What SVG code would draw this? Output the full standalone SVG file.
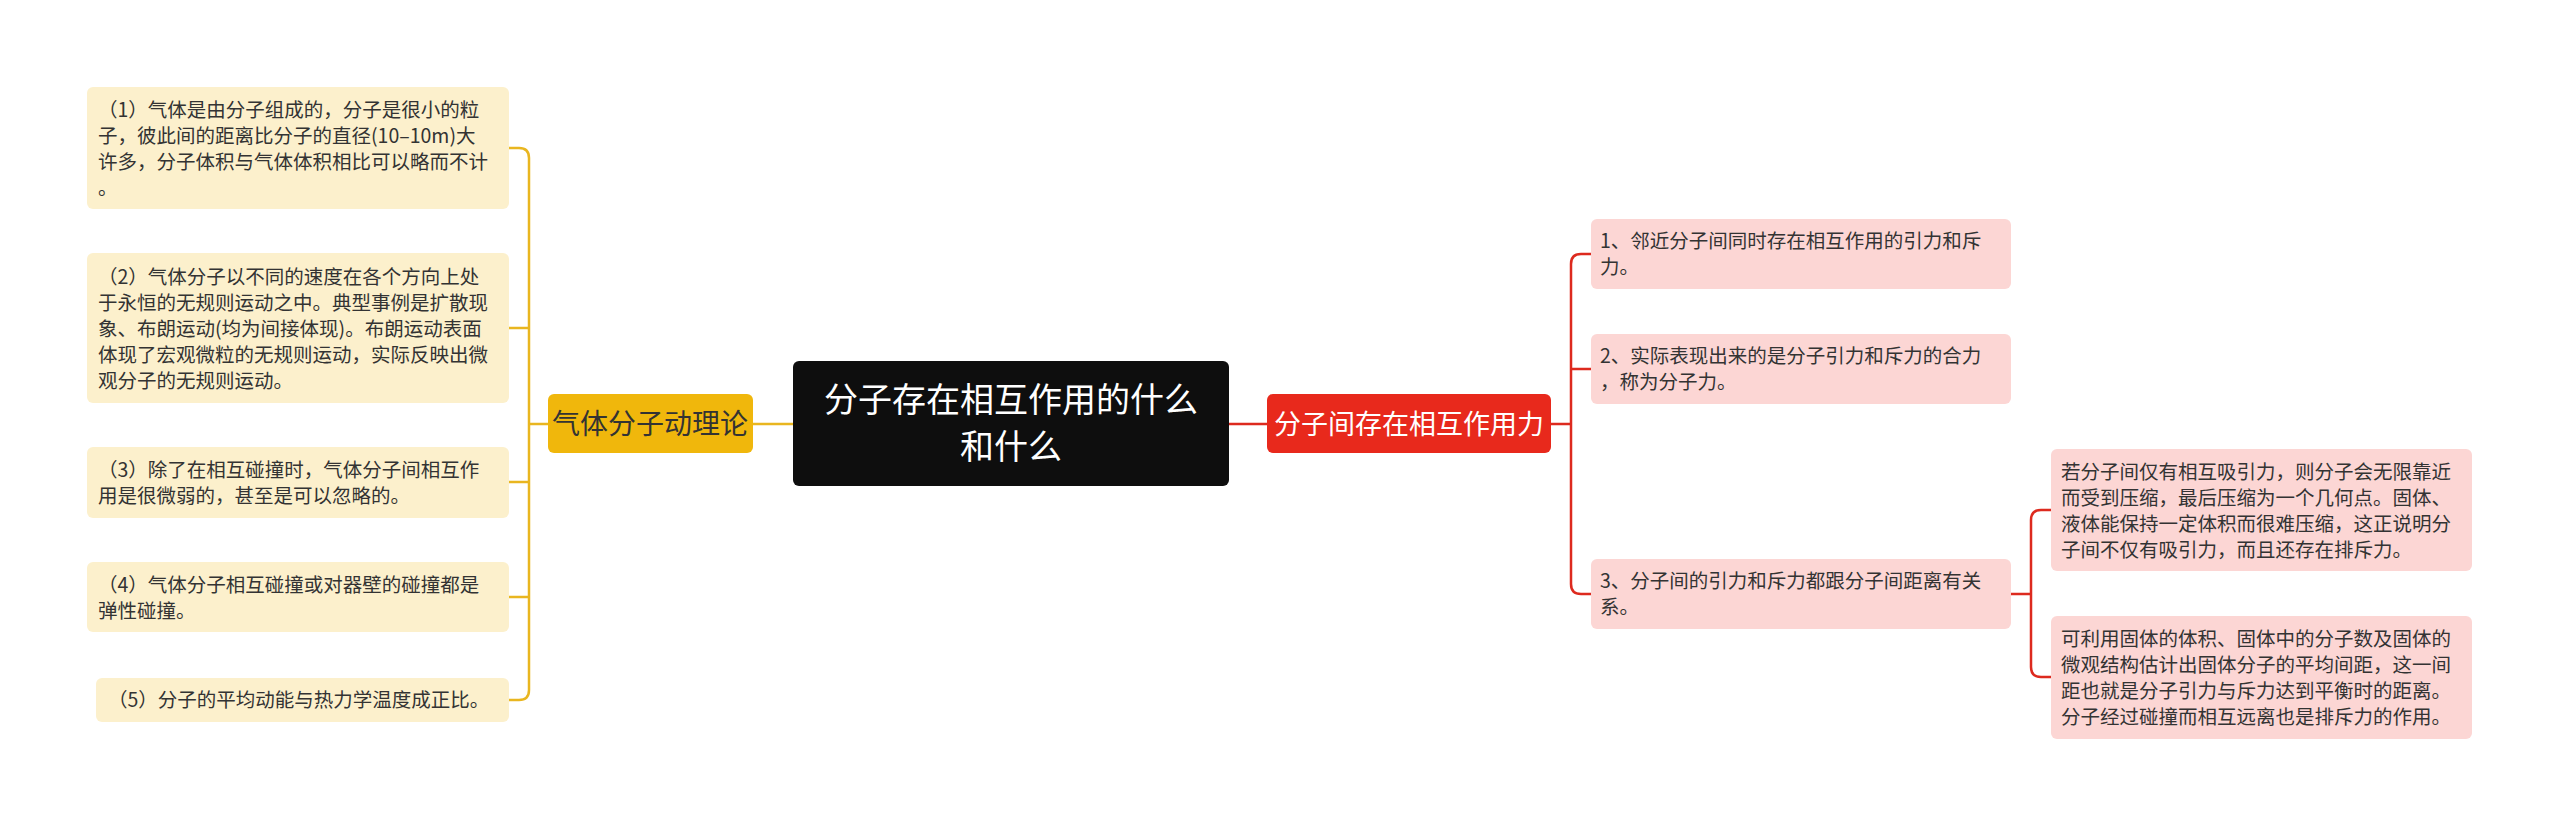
<svg xmlns="http://www.w3.org/2000/svg" width="2560" height="826" viewBox="0 0 2560 826">
<style>
text{font-family:"Noto Sans CJK SC","Noto Sans",sans-serif}
.l{fill:#FCF0CC}
.p{fill:#FCD6D4}
.t{font-size:19.5px;fill:#333}
.ly{fill:none;stroke:#E9B620;stroke-width:2.5}
.lr{fill:none;stroke:#DD2A1E;stroke-width:2.5}
</style>
<rect width="2560" height="826" fill="#fff"/>
<g id="connectors">
<path class="ly" d="M793 424H753M548 424H529"/>
<path class="ly" d="M509 148H519Q529 148 529 158V690Q529 700 519 700H509M529 328H509M529 482H509M529 597H509"/>
<path class="lr" d="M1229 424H1267M1551 424H1571"/>
<path class="lr" d="M1591 254H1581Q1571 254 1571 264V584Q1571 594 1581 594H1591M1571 369H1591"/>
<path class="lr" d="M2011 594H2031M2051 510H2041Q2031 510 2031 520V667Q2031 677 2041 677H2051"/>
</g>
<g id="center"><rect x="793" y="361" width="436" height="125" rx="6" fill="#0E0E0E"/>
<text x="1011" y="412" font-size="34" fill="#fff" text-anchor="middle">分子存在相互作用的什么</text>
<text x="1011" y="459" font-size="34" fill="#fff" text-anchor="middle">和什么</text></g>
<g id="yellow"><rect x="548" y="394" width="205" height="59" rx="6" fill="#F0B70C"/>
<text x="650" y="434" font-size="28" fill="#333" text-anchor="middle">气体分子动理论</text></g>
<g id="red"><rect x="1267" y="394" width="284" height="59" rx="6" fill="#E8291C"/>
<text x="1409" y="434" font-size="27" fill="#fff" text-anchor="middle">分子间存在相互作用力</text></g>
<g id="n1"><rect class="l" x="87" y="87" width="422" height="122" rx="6"/>
<text class="t" x="98" y="117">（1）气体是由分子组成的，分子是很小的粒<tspan x="98" dy="26">子，彼此间的距离比分子的直径(10–10m)大</tspan><tspan x="98" dy="26">许多，分子体积与气体体积相比可以略而不计</tspan><tspan x="98" dy="26">。</tspan></text></g>
<g id="n2"><rect class="l" x="87" y="253" width="422" height="150" rx="6"/>
<text class="t" x="98" y="284">（2）气体分子以不同的速度在各个方向上处<tspan x="98" dy="26">于永恒的无规则运动之中。典型事例是扩散现</tspan><tspan x="98" dy="26">象、布朗运动(均为间接体现)。布朗运动表面</tspan><tspan x="98" dy="26">体现了宏观微粒的无规则运动，实际反映出微</tspan><tspan x="98" dy="26">观分子的无规则运动。</tspan></text></g>
<g id="n3"><rect class="l" x="87" y="447" width="422" height="71" rx="6"/>
<text class="t" x="98" y="477">（3）除了在相互碰撞时，气体分子间相互作<tspan x="98" dy="26">用是很微弱的，甚至是可以忽略的。</tspan></text></g>
<g id="n4"><rect class="l" x="87" y="562" width="422" height="70" rx="6"/>
<text class="t" x="98" y="592">（4）气体分子相互碰撞或对器壁的碰撞都是<tspan x="98" dy="26">弹性碰撞。</tspan></text></g>
<g id="n5"><rect class="l" x="96" y="678" width="413" height="44" rx="6"/>
<text class="t" x="108" y="707">（5）分子的平均动能与热力学温度成正比。</text></g>
<g id="r1"><rect class="p" x="1591" y="219" width="420" height="70" rx="6"/>
<text class="t" x="1600" y="248">1、邻近分子间同时存在相互作用的引力和斥<tspan x="1600" dy="26">力。</tspan></text></g>
<g id="r2"><rect class="p" x="1591" y="334" width="420" height="70" rx="6"/>
<text class="t" x="1600" y="363">2、实际表现出来的是分子引力和斥力的合力<tspan x="1600" dy="26">，称为分子力。</tspan></text></g>
<g id="r3"><rect class="p" x="1591" y="559" width="420" height="70" rx="6"/>
<text class="t" x="1600" y="588">3、分子间的引力和斥力都跟分子间距离有关<tspan x="1600" dy="26">系。</tspan></text></g>
<g id="r3a"><rect class="p" x="2051" y="449" width="421" height="122" rx="6"/>
<text class="t" x="2061" y="479">若分子间仅有相互吸引力，则分子会无限靠近<tspan x="2061" dy="26">而受到压缩，最后压缩为一个几何点。固体、</tspan><tspan x="2061" dy="26">液体能保持一定体积而很难压缩，这正说明分</tspan><tspan x="2061" dy="26">子间不仅有吸引力，而且还存在排斥力。</tspan></text></g>
<g id="r3b"><rect class="p" x="2051" y="616" width="421" height="123" rx="6"/>
<text class="t" x="2061" y="646">可利用固体的体积、固体中的分子数及固体的<tspan x="2061" dy="26">微观结构估计出固体分子的平均间距，这一间</tspan><tspan x="2061" dy="26">距也就是分子引力与斥力达到平衡时的距离。</tspan><tspan x="2061" dy="26">分子经过碰撞而相互远离也是排斥力的作用。</tspan></text></g>
</svg>
